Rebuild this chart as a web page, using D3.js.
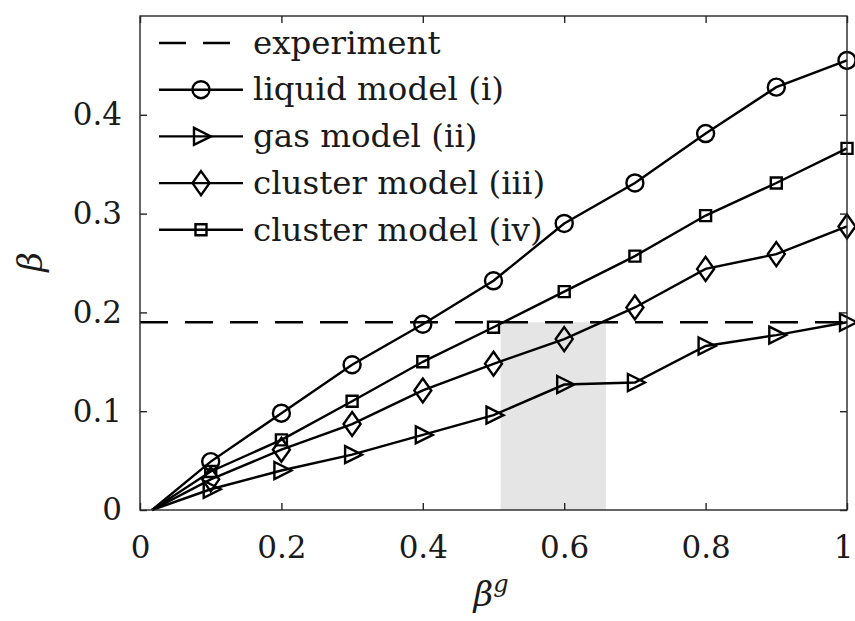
<!DOCTYPE html>
<html>
<head>
<meta charset="utf-8">
<script src="https://cdn.jsdelivr.net/npm/d3@7"></script>
<style>
  body { margin: 0; background: #fff; }
  text { fill: #1a1a1a; }
</style>
</head>
<body>
<div id="chart"></div>
<script>
let width = 855;
let height = 621;
let margin = {top: 16, right: 8, bottom: 111, left: 140};
let font = "'DejaVu Serif', 'Liberation Serif', serif";

// beta^g values (first point is the common origin, no marker)
var betaG = [0.017, 0.1, 0.2, 0.3, 0.4, 0.5, 0.6, 0.7, 0.8, 0.9, 1.0];
var liquid = [0, 0.049, 0.098, 0.147, 0.188, 0.232, 0.290, 0.331, 0.381, 0.428, 0.455];
var gas = [0, 0.021, 0.040, 0.056, 0.076, 0.096, 0.127, 0.129, 0.166, 0.177, 0.190];
var clusterIII = [0, 0.031, 0.061, 0.087, 0.121, 0.148, 0.173, 0.205, 0.244, 0.259, 0.287];
var clusterIV = [0, 0.039, 0.071, 0.110, 0.150, 0.185, 0.221, 0.257, 0.298, 0.331, 0.366];
var experiment = 0.19;
var band = [0.51, 0.659];

var xTicks = [0, 0.2, 0.4, 0.6, 0.8, 1];
var yTicks = [0, 0.1, 0.2, 0.3, 0.4];

var series = [
  {name: "liquid model (i)", values: liquid, marker: "circle"},
  {name: "gas model (ii)", values: gas, marker: "triangle"},
  {name: "cluster model (iii)", values: clusterIII, marker: "diamond"},
  {name: "cluster model (iv)", values: clusterIV, marker: "square"}
];

var x = d3.scaleLinear().domain([0, 1]).range([margin.left, width - margin.right]);
var y = d3.scaleLinear().domain([0, 0.5]).range([height - margin.bottom, margin.top]);

var svg = d3.select("#chart").append("svg")
    .attr("width", width)
    .attr("height", height)
    .style("font-family", font);

// shaded band
svg.append("rect")
    .attr("x", x(band[0]))
    .attr("y", y(experiment))
    .attr("width", x(band[1]) - x(band[0]))
    .attr("height", y(0) - y(experiment))
    .attr("fill", "#e5e5e5");

// experiment line
svg.append("line")
    .attr("x1", x(0)).attr("x2", x(1))
    .attr("y1", y(experiment)).attr("y2", y(experiment))
    .attr("stroke", "#000")
    .attr("stroke-width", 2.5)
    .attr("stroke-dasharray", "28,17");

function markerPath(type) {
  if (type == "circle") return "M8.5,0A8.5,8.5 0 1,1 -8.5,0A8.5,8.5 0 1,1 8.5,0Z";
  if (type == "triangle") return "M-7,-8.5L10,0L-7,8.5Z";
  if (type == "diamond") return "M0,-12L8.5,0L0,12L-8.5,0Z";
  return "M-5.5,-5.5H5.5V5.5H-5.5Z";
}

var line = d3.line()
    .x((d, i) => x(betaG[i]))
    .y(d => y(d));

series.forEach(function(s) {
  svg.append("path")
      .attr("d", line(s.values))
      .attr("fill", "none")
      .attr("stroke", "#000")
      .attr("stroke-width", 2.4);

  svg.selectAll(null)
    .data(s.values.slice(1))
    .enter().append("path")
      .attr("transform", (d, i) => "translate(" + x(betaG[i + 1]) + "," + y(d) + ")")
      .attr("d", markerPath(s.marker))
      .attr("fill", "none")
      .attr("stroke", "#000")
      .attr("stroke-width", 2.4);
});

// axes box
var axisColor = "#262626";
svg.append("rect")
    .attr("x", x(0)).attr("y", y(0.5))
    .attr("width", x(1) - x(0))
    .attr("height", y(0) - y(0.5))
    .attr("fill", "none")
    .attr("stroke", axisColor)
    .attr("stroke-width", 1.4);

var bottom = svg.append("g")
    .attr("transform", "translate(0," + y(0) + ")")
    .call(d3.axisBottom(x).tickValues(xTicks).tickSize(-7).tickPadding(26).tickFormat(d3.format("")));
var top_ = svg.append("g")
    .attr("transform", "translate(0," + y(0.5) + ")")
    .call(d3.axisTop(x).tickValues(xTicks).tickSize(-7).tickFormat(""));
var left = svg.append("g")
    .attr("transform", "translate(" + x(0) + ",0)")
    .call(d3.axisLeft(y).tickValues(yTicks).tickSize(-7).tickPadding(18).tickFormat(d3.format("")));
var right = svg.append("g")
    .attr("transform", "translate(" + x(1) + ",0)")
    .call(d3.axisRight(y).tickValues(yTicks).tickSize(-7).tickFormat(""));

[bottom, top_, left, right].forEach(function(g) {
  g.attr("font-family", null);
  g.select(".domain").remove();
  g.selectAll(".tick line").attr("stroke", axisColor).attr("stroke-width", 1.4);
  g.selectAll(".tick text")
      .style("font-family", font)
      .attr("font-size", 31)
      .attr("fill", "#1a1a1a");
});
// keep the last x label inside the picture
bottom.selectAll(".tick text").filter(d => d == 1).attr("dx", -4);

// axis labels
svg.append("text")
    .attr("transform", "translate(42,262) rotate(-90)")
    .attr("text-anchor", "middle")
    .attr("font-size", 34)
    .attr("font-style", "italic")
    .text("β");

var xl = svg.append("text")
    .attr("x", 491)
    .attr("y", 606)
    .attr("text-anchor", "middle")
    .attr("font-size", 34)
    .attr("font-style", "italic");
xl.append("tspan").text("β");
xl.append("tspan").attr("font-size", 24).attr("dy", -14).text("g");

// legend
var legendRows = [{name: "experiment", marker: null}].concat(series);
var legend = svg.append("g");
legendRows.forEach(function(r, i) {
  var ly = 43 + i * 46.7;
  legend.append("line")
      .attr("x1", 159).attr("x2", r.marker ? 243 : 232)
      .attr("y1", ly).attr("y2", ly)
      .attr("stroke", "#000")
      .attr("stroke-width", 2.4)
      .attr("stroke-dasharray", r.marker ? null : "27,17");
  if (r.marker) {
    legend.append("path")
        .attr("transform", "translate(201," + ly + ")")
        .attr("d", markerPath(r.marker))
        .attr("fill", "none")
        .attr("stroke", "#000")
        .attr("stroke-width", 2.4);
  }
  legend.append("text")
      .attr("x", 253)
      .attr("y", ly)
      .attr("dy", "0.33em")
      .attr("font-size", 32.5)
      .text(r.name);
});
</script>
</body>
</html>
